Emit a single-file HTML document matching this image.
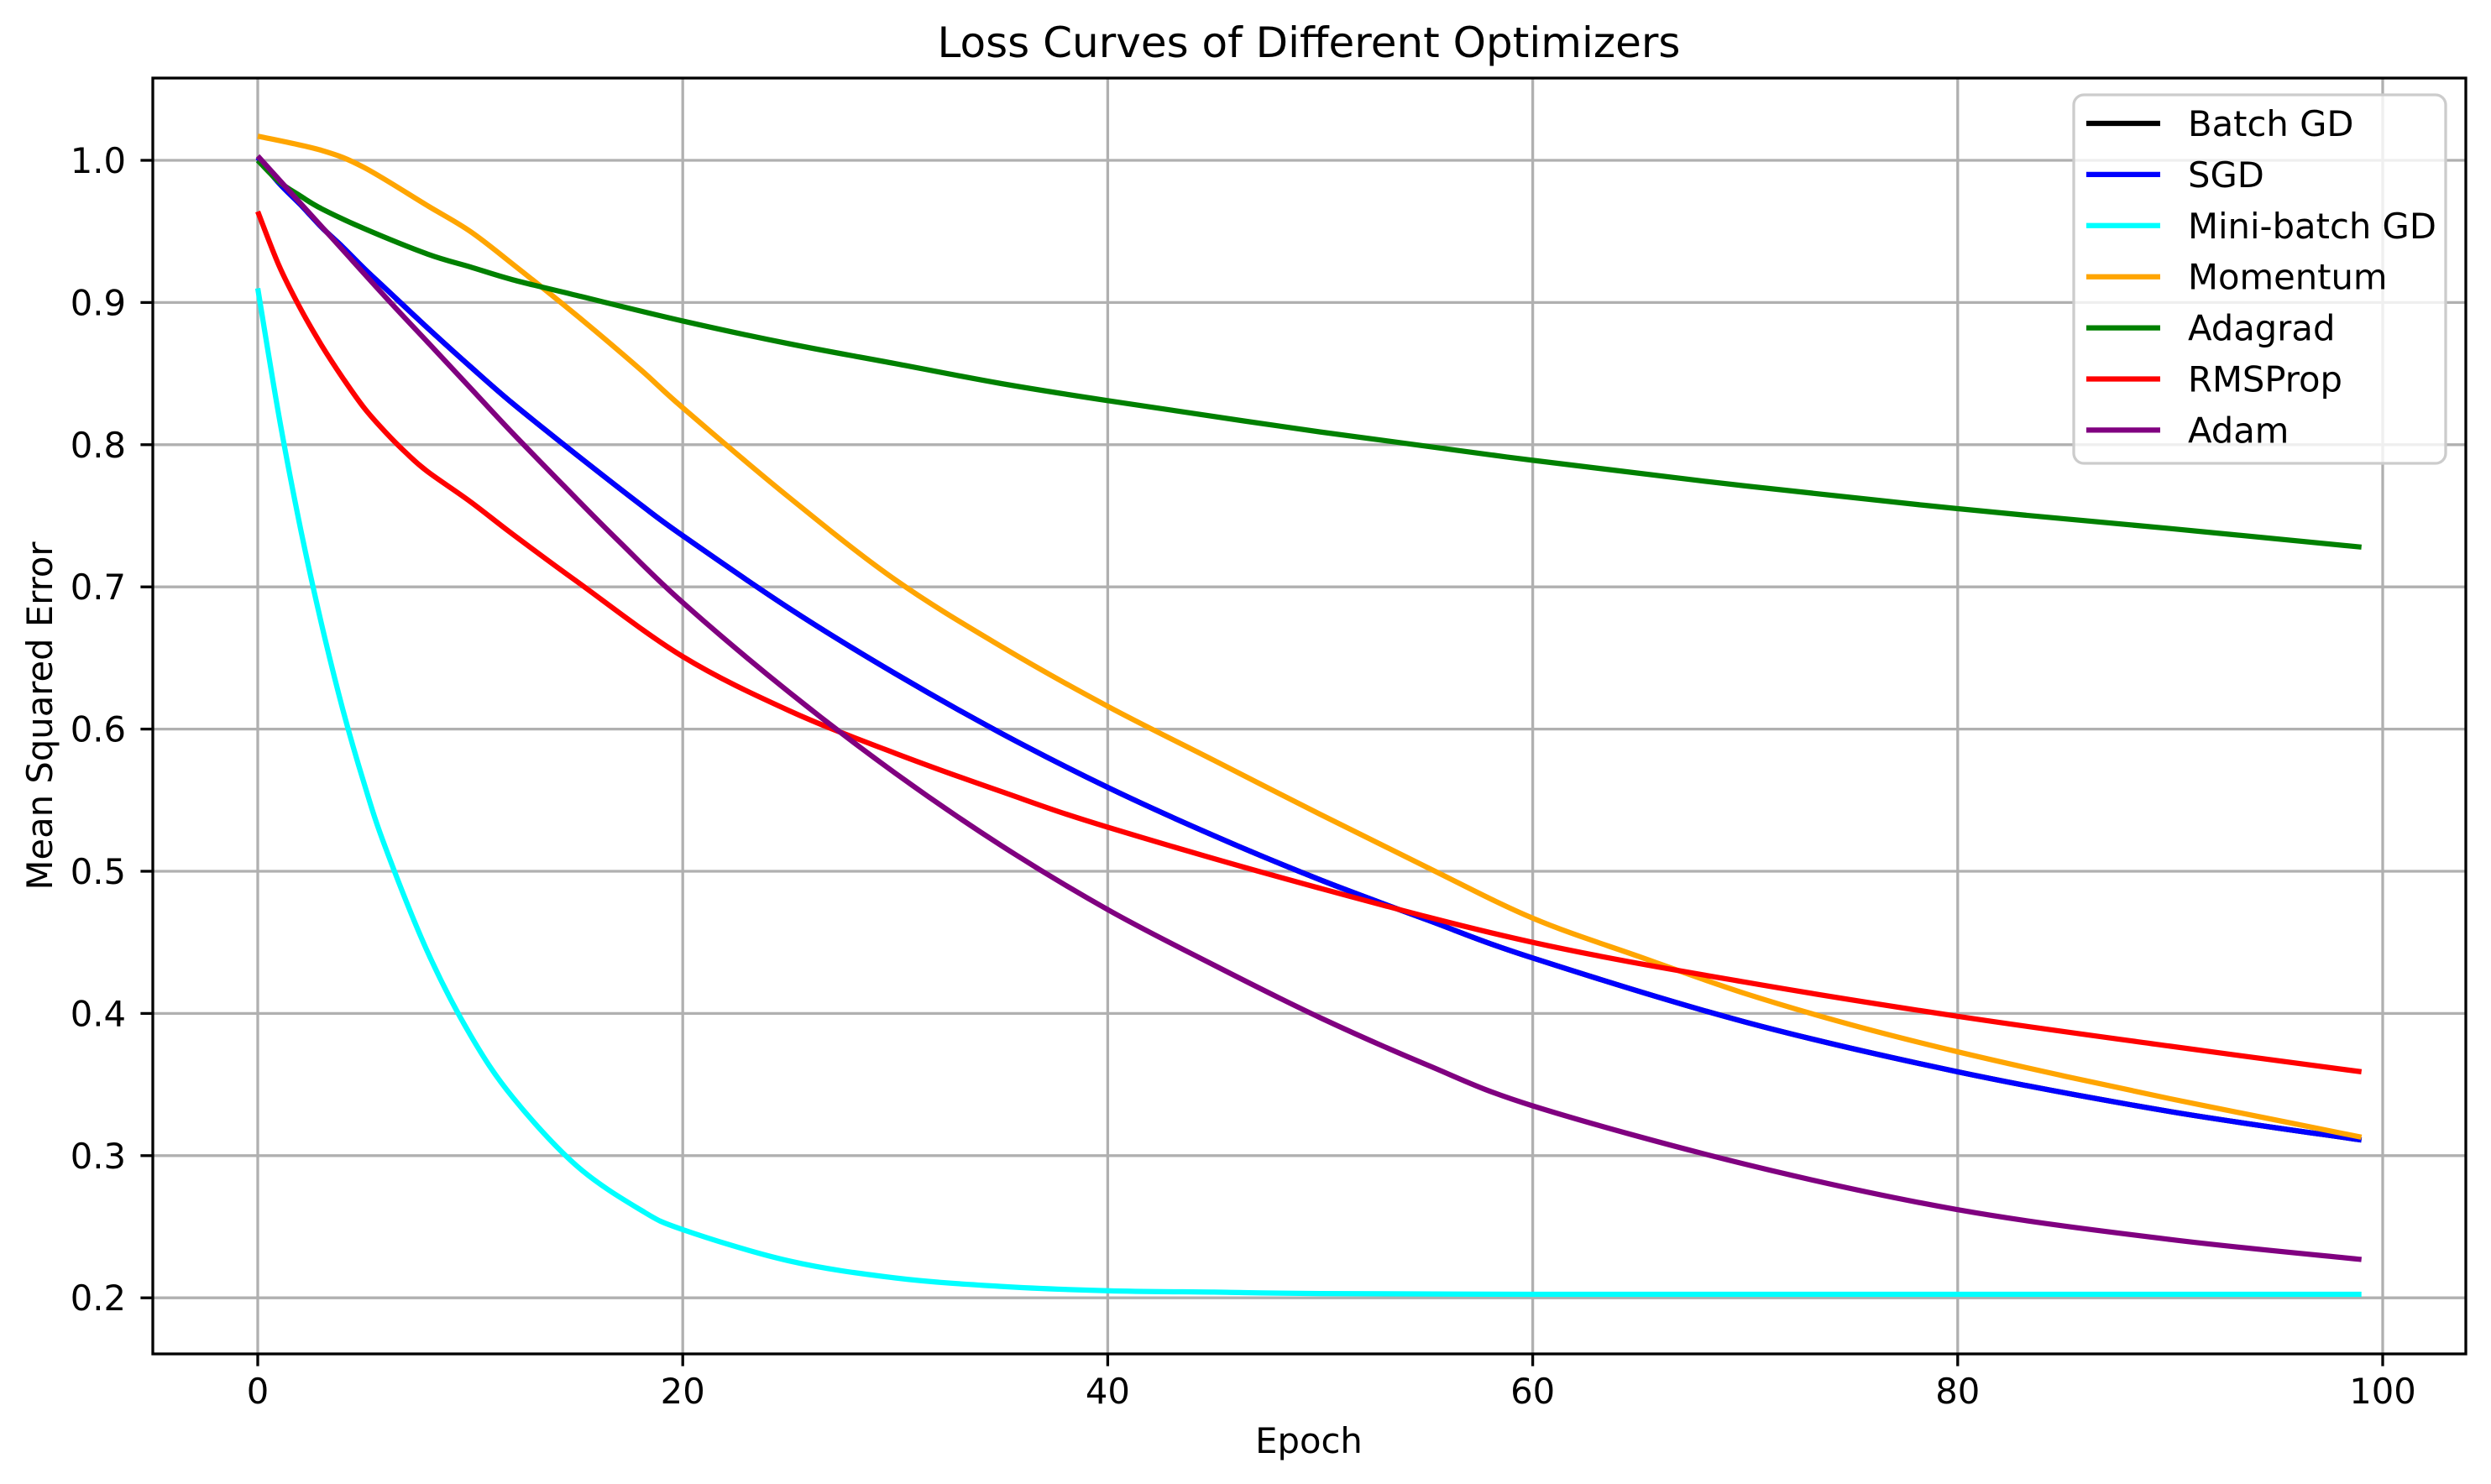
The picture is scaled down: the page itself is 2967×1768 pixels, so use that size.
<!DOCTYPE html>
<html><head><meta charset="utf-8"><style>
html,body{margin:0;padding:0;background:#fff;}
svg{display:block;font-family:"DejaVu Sans","Liberation Sans",sans-serif;}
</style></head><body>
<svg id="chart" width="2967" height="1768" viewBox="0 0 2967 1768" xmlns="http://www.w3.org/2000/svg">
<rect x="0" y="0" width="2967" height="1768" fill="#fff"/>
<g id="grid"></g>
<g id="series"></g>
<g id="axes"></g>
<g id="legend"></g>
<text x="1559" y="68" font-size="50" text-anchor="middle">Loss Curves of Different Optimizers</text>
<text x="1559" y="1731" font-size="41.7" text-anchor="middle">Epoch</text>
<text x="0" y="0" font-size="41.7" text-anchor="middle" transform="translate(62,853) rotate(-90)">Mean Squared Error</text>
</svg>
<script>
const seriesNames = ["Batch GD","SGD","Mini-batch GD","Momentum","Adagrad","RMSProp","Adam"];
const seriesColors = ["#000000","#0000ff","#00ffff","#ffa500","#008000","#ff0000","#800080"];
const xTicks = [0,20,40,60,80,100];
const yTicks = [0.2,0.3,0.4,0.5,0.6,0.7,0.8,0.9,1.0];
const yTickLabels = ["0.2","0.3","0.4","0.5","0.6","0.7","0.8","0.9","1.0"];

const sgdEpochs = [0,1,2,3,4,5,6,8,10,12,15,18,20,25,30,35,40,45,50,55,60,70,80,90,99];
const sgdValues = [1.002,0.984,0.969,0.953,0.939,0.924,0.910,0.882,0.855,0.829,0.793,0.758,0.736,0.685,0.639,0.597,0.559,0.525,0.494,0.466,0.439,0.394,0.359,0.331,0.311];
const batchEpochs = sgdEpochs.slice();
const batchValues = sgdValues.slice();
const miniEpochs = [0,1,2,3,4,5,6,8,10,12,15,18,20,25,30,35,40,45,50,60,70,80,90,99];
const miniValues = [0.91,0.820,0.742,0.674,0.614,0.562,0.517,0.443,0.385,0.341,0.293,0.262,0.248,0.226,0.214,0.208,0.205,0.204,0.203,0.2025,0.2025,0.2025,0.2025,0.2025];
const momEpochs = [0,3,5,8,10,12,15,18,20,25,30,35,40,45,50,55,60,65,70,75,80,85,90,95,99];
const momValues = [1.017,1.007,0.995,0.968,0.950,0.927,0.891,0.853,0.826,0.763,0.705,0.658,0.616,0.578,0.540,0.503,0.467,0.440,0.414,0.392,0.373,0.356,0.340,0.325,0.313];
const adaEpochs = [0,1,2,3,5,8,10,12,15,20,25,30,35,40,50,60,70,80,90,99];
const adaValues = [1.0,0.985,0.975,0.966,0.952,0.934,0.925,0.916,0.905,0.887,0.871,0.857,0.843,0.831,0.809,0.789,0.771,0.755,0.741,0.728];
const rmsEpochs = [0,1,2,3,4,5,6,7,8,10,12,15,20,25,30,35,40,50,60,70,80,90,99];
const rmsValues = [0.964,0.926,0.896,0.870,0.847,0.826,0.809,0.794,0.781,0.760,0.737,0.704,0.651,0.613,0.583,0.556,0.531,0.488,0.450,0.422,0.398,0.377,0.359];
const adamEpochs = [0,2,4,6,8,10,12,15,17,20,25,30,35,40,45,50,55,60,70,80,90,99];
const adamValues = [1.003,0.970,0.937,0.904,0.872,0.840,0.808,0.762,0.732,0.689,0.626,0.569,0.518,0.473,0.434,0.397,0.364,0.335,0.294,0.262,0.241,0.227];

const seriesEpochs = [batchEpochs,sgdEpochs,miniEpochs,momEpochs,adaEpochs,rmsEpochs,adamEpochs];
const seriesValues = [batchValues,sgdValues,miniValues,momValues,adaValues,rmsValues,adamValues];

const NS = "http://www.w3.org/2000/svg";
const L = 182, R = 2937, T = 93, B = 1613;
function xs(e){ return 307 + (2838-307) * e / 100; }
function ys(v){ return 191 + (1.0 - v) * 1694; }
function mk(tag, attrs, parent){ const el = document.createElementNS(NS, tag); for (const k in attrs) el.setAttribute(k, attrs[k]); parent.appendChild(el); return el; }
function smoothPath(p){
  let d = 'M' + p[0][0].toFixed(1) + ',' + p[0][1].toFixed(1);
  for (let i = 0; i < p.length - 1; i++){
    const p0 = p[i-1] || p[i], p1 = p[i], p2 = p[i+1], p3 = p[i+2] || p[i+1];
    const c1x = p1[0] + (p2[0]-p0[0])/6, c1y = p1[1] + (p2[1]-p0[1])/6;
    const c2x = p2[0] - (p3[0]-p1[0])/6, c2y = p2[1] - (p3[1]-p1[1])/6;
    d += ' C' + c1x.toFixed(1) + ',' + c1y.toFixed(1) + ' ' + c2x.toFixed(1) + ',' + c2y.toFixed(1) + ' ' + p2[0].toFixed(1) + ',' + p2[1].toFixed(1);
  }
  return d;
}

const grid = document.getElementById('grid');
const axes = document.getElementById('axes');
const ser = document.getElementById('series');
const leg = document.getElementById('legend');

xTicks.forEach(t => {
  const x = xs(t);
  const g = mk('line', {x1:x, x2:x, y1:T, y2:B, stroke:'#b0b0b0', 'stroke-width':3.3}, grid);
  
  
  const tk = mk('line', {x1:x, x2:x, y1:B, y2:B+14.6, stroke:'#000', 'stroke-width':3.3}, axes);
  
  
  const lb = mk('text', {x:x, y:1672, 'font-size':41.7, 'text-anchor':'middle'}, axes);
  lb.textContent = String(t);
  
  
});
yTicks.forEach((t, i) => {
  const y = ys(t);
  const g = mk('line', {x1:L, x2:R, y1:y, y2:y, stroke:'#b0b0b0', 'stroke-width':3.3}, grid);
  
  
  const tk = mk('line', {x1:L-14.6, x2:L, y1:y, y2:y, stroke:'#000', 'stroke-width':3.3}, axes);
  
  
  const lb = mk('text', {x:150, y:y+15, 'font-size':41.7, 'text-anchor':'end'}, axes);
  lb.textContent = yTickLabels[i];
  
  
});
const frame = mk('rect', {x:L, y:T, width:R-L, height:B-T, fill:'none', stroke:'#000', 'stroke-width':3.3}, axes);



seriesNames.forEach((n, i) => {
  const ep = seriesEpochs[i], vals = seriesValues[i];
  const pts = ep.map((e, j) => [xs(e), ys(vals[j])]);
  const pl = mk('path', {d:smoothPath(pts), fill:'none', stroke:seriesColors[i], 'stroke-width':6.25, 'stroke-linejoin':'round', 'stroke-linecap':'butt'}, ser);
  
  
});

const box = mk('rect', {x:2470, y:113, width:443, height:439, rx:12, fill:'#ffffff', 'fill-opacity':0.8, stroke:'#cccccc', 'stroke-width':3.3}, leg);


seriesNames.forEach((n, i) => {
  const y = 147 + i * 60.9;
  const ln = mk('line', {x1:2485, x2:2573, y1:y, y2:y, stroke:seriesColors[i], 'stroke-width':6.25}, leg);
  
  
  const tx = mk('text', {x:2606, y:y+15, 'font-size':41.7}, leg);
  tx.textContent = n;
  
  
});
</script>
</body></html>
